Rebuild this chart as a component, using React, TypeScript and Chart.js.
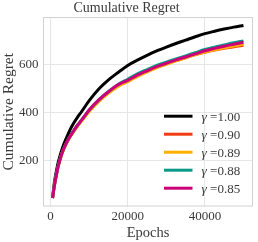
import React, { useEffect, useRef } from "react";
import { Chart, registerables } from "chart.js";

Chart.register(...registerables);

const epochs = [500, 1000, 1500, 2000, 3000, 4000, 5000, 6000, 7000, 8000, 10000, 12500, 15000, 17500, 20000, 22500, 25000, 27500, 30000, 32500, 35000, 37500, 40000, 42500, 45000, 47500, 50000];

const regret100 = [45, 112, 157, 195, 250, 291, 327, 356, 381, 403, 449, 497, 535, 566, 595, 617, 637, 655, 671, 686, 700, 714, 727, 737, 746, 754, 761];
const regret090 = [45, 98, 141, 178, 232, 269, 298, 323, 345, 365, 406, 448, 482, 510, 530, 552, 570, 587, 602, 615, 627, 640, 650, 659, 666, 673, 679];
const regret089 = [45, 98, 141, 178, 232, 269, 298, 322, 344, 364, 404, 446, 480, 508, 528, 550, 568, 586, 600, 614, 627, 640, 651, 660, 668, 676, 684];
const regret088 = [45, 99, 142, 180, 234, 271, 300, 325, 348, 368, 410, 452, 487, 516, 538, 560, 578, 595, 609, 622, 635, 648, 661, 671, 680, 689, 697];
const regret085 = [45, 99, 142, 180, 234, 271, 300, 325, 348, 368, 410, 452, 486, 515, 533, 555, 573, 590, 604, 618, 630, 643, 656, 666, 675, 683, 691];

const seriesLabels = ["1.00", "0.90", "0.89", "0.88", "0.85"];
const seriesColors = ["#000000", "#F03C12", "#FFB000", "#0A9A8A", "#CC0078"];
const seriesValues = [regret100, regret090, regret089, regret088, regret085];

const xTicks = [0, 20000, 40000];
const yTicks = [200, 400, 600];

const FONT = "'Liberation Serif', 'Times New Roman', serif";
const TEXT = "#3a3a3a";
const GRID = "#e6e6e6";

const boxPlugin = {
  id: "axesBox",
  beforeDatasetsDraw(chart: any) {
    const { ctx, chartArea } = chart;
    ctx.save();
    ctx.strokeStyle = "#d2d2d2";
    ctx.lineWidth = 1;
    ctx.strokeRect(chartArea.left + 0.5, chartArea.top + 0.5, chartArea.right - chartArea.left - 1, chartArea.bottom - chartArea.top - 1);
    ctx.restore();
  },
};

const legendPlugin = {
  id: "innerLegend",
  afterDatasetsDraw(chart: any) {
    const { ctx, chartArea } = chart;
    const ds = chart.data.datasets;
    const n = ds.length;
    ctx.save();
    for (let i = 0; i < n; i++) {
      const y = chartArea.bottom - 18.3 - (n - 1 - i) * 18;
      ctx.strokeStyle = ds[i].borderColor;
      ctx.lineWidth = 3;
      ctx.lineCap = "butt";
      ctx.beginPath();
      ctx.moveTo(chartArea.right - 89, y);
      ctx.lineTo(chartArea.right - 60.5, y);
      ctx.stroke();
      ctx.fillStyle = TEXT;
      ctx.textBaseline = "middle";
      ctx.textAlign = "left";
      let x = chartArea.right - 51.5;
      ctx.font = "italic 13.5px " + FONT;
      ctx.fillText("γ", x, y + 1);
      x += ctx.measureText("γ").width;
      ctx.font = "13px " + FONT;
      ctx.fillText(" =" + ds[i].label, x, y + 1);
    }
    ctx.restore();
  },
};

export default function App() {
  const ref = useRef<HTMLCanvasElement | null>(null);
  useEffect(() => {
    document.body.style.margin = "0";
    if (!ref.current) return;
    const datasets = seriesValues.map((vals, i) => ({
      label: seriesLabels[i],
      data: epochs.map((e, k) => ({ x: e, y: vals[k] })),
      borderColor: seriesColors[i],
      backgroundColor: seriesColors[i],
      borderWidth: 3,
      pointRadius: 0,
      cubicInterpolationMode: "monotone" as const,
      order: seriesValues.length - i,
    }));
    const chart = new Chart(ref.current, {
      type: "line",
      data: { datasets },
      plugins: [boxPlugin, legendPlugin],
      options: {
        animation: false,
        responsive: false,
        layout: { padding: { left: 0, right: 5, top: 0, bottom: 0 } },
        plugins: {
          legend: { display: false },
          tooltip: { enabled: false },
          title: {
            display: true,
            text: "Cumulative Regret",
            color: TEXT,
            font: { family: FONT, size: 14, weight: "normal", lineHeight: 1.15 },
            padding: { top: 0.5, bottom: 0.4 },
          },
        },
        scales: {
          x: {
            type: "linear",
            min: -1975,
            max: 52475,
            afterFit: (s: any) => { s.height = 35.5; },
            afterBuildTicks: (s: any) => { s.ticks = xTicks.map((v) => ({ value: v })); },
            grid: { color: GRID, drawTicks: false },
            border: { display: false },
            ticks: {
              color: TEXT,
              padding: 2,
              font: { family: FONT, size: 13 },
              maxRotation: 0,
              autoSkip: false,
              callback: (v: any) => String(v),
            },
            title: {
              display: true,
              text: "Epochs",
              color: TEXT,
              font: { family: FONT, size: 14.5 },
              padding: { top: 0, bottom: 0 },
            },
          },
          y: {
            type: "linear",
            min: 10,
            max: 796,
            afterFit: (s: any) => { s.width = 43; },
            afterBuildTicks: (s: any) => { s.ticks = yTicks.map((v) => ({ value: v })); },
            grid: { color: GRID, drawTicks: false },
            border: { display: false },
            ticks: {
              color: TEXT,
              padding: 4.5,
              font: { family: FONT, size: 13 },
              autoSkip: false,
              callback: (v: any) => String(v),
            },
            title: {
              display: true,
              text: "Cumulative Regret",
              color: TEXT,
              font: { family: FONT, size: 15.5 },
              padding: { top: 0, bottom: 0 },
            },
          },
        },
      },
    });
    return () => chart.destroy();
  }, []);
  return (
    <div style={{ width: 258, height: 242 }}>
      <canvas ref={ref} width={258} height={242} />
    </div>
  );
}
